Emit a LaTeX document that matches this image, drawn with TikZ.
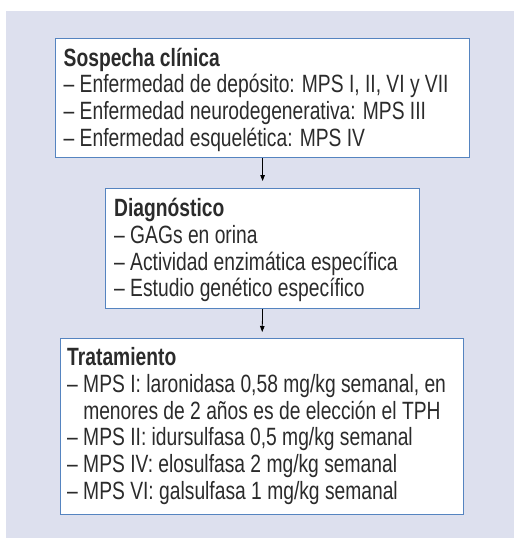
\documentclass[tikz,border=0pt]{standalone}
\usepackage{fontspec}
\setmainfont{Liberation Sans}[FakeStretch=0.77]
\usetikzlibrary{arrows.meta}
\definecolor{bgc}{HTML}{DDE0EE}
\definecolor{bordc}{HTML}{5584C0}
\definecolor{txtc}{HTML}{2B2B2B}
\tikzset{
  box/.style={draw=bordc, line width=1.2pt, fill=white, inner sep=0pt, anchor=north west},
  txt/.style={inner sep=0pt, anchor=north west, align=left, text=txtc,
    font=\fontsize{25}{26.7}\selectfont},
  conn/.style={draw=black, line width=0.8pt, -{Triangle[length=6pt,width=4.5pt]}}
}
\newcommand{\fl}{\rule{0pt}{23pt}}
\newcommand{\ind}{\phantom{– }}
\begin{document}
\begin{tikzpicture}[x=1pt,y=1pt]
\useasboundingbox (0,0) rectangle (514,-538);
\fill[bgc] (6,-11) rectangle (514,-538);
\node[box, minimum width=414pt, minimum height=119pt] (b1) at (55,-38) {};
\node[box, minimum width=314pt, minimum height=120pt] (b2) at (105,-188) {};
\node[box, minimum width=403pt, minimum height=176pt] (b3) at (60,-338) {};
\node[txt] (t1) at (63.5,-43) {\fl\textbf{Sospecha clínica}\\
– Enfermedad de depósito: MPS I, II, VI y VII\\
– Enfermedad neurodegenerativa: MPS III\\
– Enfermedad esquelética: MPS IV};
\node[txt] (t2) at (114,-193.5) {\fl\textbf{Diagnóstico}\\
– GAGs en orina\\
– Actividad enzimática específica\\
– Estudio genético específico};
\node[txt] (t3) at (67,-342.5) {\fl\textbf{Tratamiento}\\
– MPS I: laronidasa 0,58 mg/kg semanal, en\\
\ind menores de 2 años es de elección el TPH\\
– MPS II: idursulfasa 0,5 mg/kg semanal\\
– MPS IV: elosulfasa 2 mg/kg semanal\\
– MPS VI: galsulfasa 1 mg/kg semanal};
\draw[conn, shorten >=7pt] (b1.south) -- (b2.north);
\draw[conn, shorten >=6pt] (b2.south) -- (b3.north);
\end{tikzpicture}
\end{document}
